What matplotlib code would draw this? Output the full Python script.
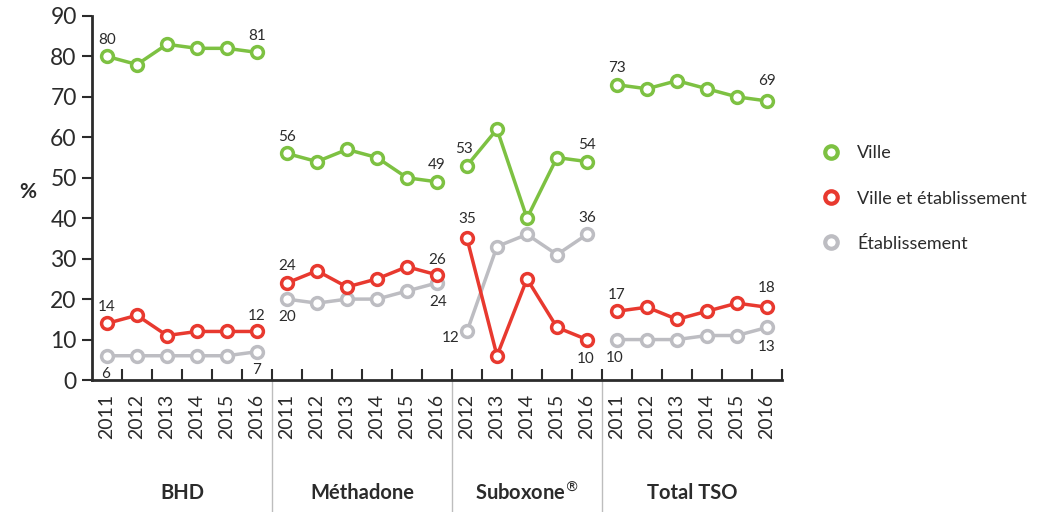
import matplotlib
matplotlib.use('Agg')
import matplotlib.pyplot as plt
from matplotlib.lines import Line2D
import matplotlib.transforms as mtransforms

plt.rcParams['font.family'] = ['Lato', 'DejaVu Sans']

groups = ['BHD', 'Méthadone', 'Suboxone$^{®}$', 'Total TSO']
years = [
    ['2011', '2012', '2013', '2014', '2015', '2016'],
    ['2011', '2012', '2013', '2014', '2015', '2016'],
    ['2012', '2013', '2014', '2015', '2016'],
    ['2011', '2012', '2013', '2014', '2015', '2016'],
]
series_names = ['Ville', 'Ville et établissement', 'Établissement']

ville = [
    [80, 78, 83, 82, 82, 81],
    [56, 54, 57, 55, 50, 49],
    [53, 62, 40, 55, 54],
    [73, 72, 74, 72, 70, 69],
]
ville_etab = [
    [14, 16, 11, 12, 12, 12],
    [24, 27, 23, 25, 28, 26],
    [35, 6, 25, 13, 10],
    [17, 18, 15, 17, 19, 18],
]
etab = [
    [6, 6, 6, 6, 6, 7],
    [20, 19, 20, 20, 22, 24],
    [12, 33, 36, 31, 36],
    [10, 10, 10, 11, 11, 13],
]

colors = ['#7dc142', '#e8392f', '#bdbdc2']
text_col = '#2b2b2b'

# label placement (first, last) per series per group: offsets in points
off = {
    0: [[(0, 12), (0, 12)], [(0, 12), (0, 12)], [(-2, 12), (0, 12)], [(0, 12), (0, 14)]],
    1: [[(0, 12), (0, 11)], [(0, 12), (0, 11)], [(0, 14), (-1, -14)], [(0, 12), (0, 14)]],
    2: [[(-1, -13), (0, -13)], [(0, -13), (1, -14)], [(-12, -5), (0, 12)], [(-2, -13), (0, -14)]],
}

fig = plt.figure(figsize=(10.37, 5.12), dpi=100)
ax = fig.add_axes([0.0887, 0.2578, 0.6654, 0.711])

data = [ville, ville_etab, etab]
xs_all = []
start = 0
bounds = []
for g in range(len(groups)):
    n = len(years[g])
    xs = list(range(start, start + n))
    xs_all += xs
    for s in range(3):
        vals = data[s][g]
        ax.plot(xs, vals, color=colors[s], lw=2.5, marker='o', ms=8.5,
                mfc='white', mec=colors[s], mew=2.5, zorder=3 + (2 - s), clip_on=False)
        for k, idx in enumerate([0, n - 1]):
            ax.annotate(str(vals[idx]), (xs[idx], vals[idx]), xytext=off[s][g][k],
                        textcoords='offset points', ha='center', va='center',
                        fontsize=11, color=text_col)
    start += n
    bounds.append(start - 0.5)

ax.set_xlim(-0.5, start - 0.5)
ax.set_ylim(0, 90)
ax.set_yticks(range(0, 91, 10))
ax.tick_params(axis='y', labelsize=16.5, length=7, width=1.5, direction='out', colors=text_col, pad=4)

all_years = [y for ys in years for y in ys]
ax.set_xticks(xs_all)
ax.set_xticklabels(all_years, rotation=90, fontsize=14, color=text_col)
ax.tick_params(axis='x', which='major', length=0, pad=10)
ax.set_xticks([x + 0.5 for x in xs_all], minor=True)
ax.tick_params(axis='x', which='minor', length=8, width=1.5, direction='in', color=text_col)

for sp in ['top', 'right']:
    ax.spines[sp].set_visible(False)
for sp in ['left', 'bottom']:
    ax.spines[sp].set_linewidth(2)
    ax.spines[sp].set_color(text_col)

trans = mtransforms.blended_transform_factory(ax.transData, ax.transAxes)
for b in bounds[:-1]:
    ax.plot([b, b], [0, -0.37], transform=trans, color='#bdbdbd', lw=1, clip_on=False)

edges = [-0.5] + bounds
for g in range(len(groups)):
    cx = (edges[g] + edges[g + 1]) / 2
    ax.text(cx, -0.31, groups[g], transform=trans, ha='center', va='center',
            fontsize=14.5, fontweight='bold', color=text_col)

fig.text(0.019, 0.625, '%', fontsize=15, fontweight='bold', color=text_col, ha='left', va='center')

handles = [Line2D([], [], ls='none', marker='o', ms=9, mfc='white', mec=c, mew=3) for c in colors]
fig.legend(handles, series_names, loc='upper left', bbox_to_anchor=(0.768, 0.748), frameon=False,
           fontsize=13, labelspacing=1.62, handletextpad=0.45, labelcolor=text_col)

fig.savefig('out.png', dpi=100)
